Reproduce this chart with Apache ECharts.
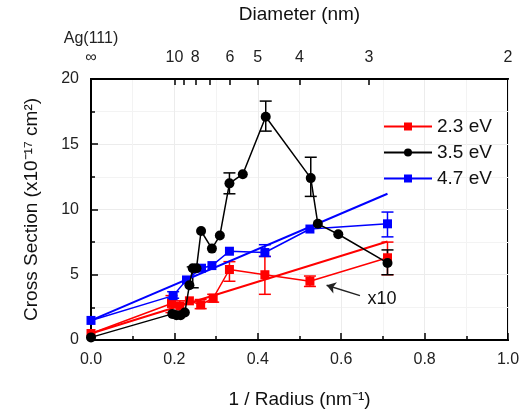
<!DOCTYPE html>
<html>
<head>
<meta charset="utf-8">
<script src="https://cdn.jsdelivr.net/npm/echarts@6/dist/echarts.min.js"></script>
<style>
  html, body { margin: 0; padding: 0; background: #fff; }
  #main { width: 527px; height: 414px; }
</style>
</head>
<body>
<div id="main"></div>
<script>
// 1/R (nm^-1) vs cross section (x10^-17 cm^2); 2.3 eV values are x10
var red23 = [[0, 0.5], [0.193, 2.8], [0.213, 2.6], [0.236, 3.0], [0.263, 2.7], [0.293, 3.2],
             [0.332, 5.4], [0.417, 5.0], [0.525, 4.5], [0.711, 6.3]];
var black35 = [[0, 0.2], [0.195, 2.0], [0.205, 1.9], [0.215, 1.9], [0.225, 2.1], [0.236, 4.2],
               [0.244, 5.5], [0.253, 5.5], [0.264, 8.35], [0.290, 7.0], [0.309, 8.0], [0.332, 12.0],
               [0.364, 12.7], [0.419, 17.1], [0.527, 12.4], [0.544, 8.9], [0.593, 8.1], [0.711, 5.9]];
var blue47 = [[0, 1.5], [0.197, 3.4], [0.229, 4.6], [0.265, 5.5], [0.290, 5.7], [0.332, 6.8],
              [0.417, 6.7], [0.525, 8.5], [0.711, 8.9]];

// linear fits
var redFit = [[0, 0.5], [0.711, 7.55]];
var blueFit = [[0, 1.5], [0.711, 11.2]];

// error bars [x, low, high]
var redErr = [[0.193, 2.1, 3.4], [0.213, 2.0, 3.0], [0.263, 2.4, 3.1], [0.293, 2.9, 3.5],
              [0.332, 4.5, 6.0], [0.417, 3.5, 6.4], [0.525, 4.1, 4.9], [0.711, 5.0, 7.5]];
var blackErr = [[0.244, 4.0, 5.6], [0.332, 11.2, 12.8], [0.419, 16.0, 18.3],
                [0.527, 11.0, 14.0], [0.711, 5.0, 6.9]];
var blueErr = [[0.197, 3.2, 3.7], [0.417, 6.4, 7.3], [0.711, 7.9, 9.8]];

// top axis: diameters (nm) -> 1/R = 2/D
var diamTicks = [10, 9, 8, 7, 6, 5, 4, 3];
var diamLabels = [10, 8, 6, 5, 4, 3, 2];

var chart = echarts.init(document.getElementById('main'));
var font = 'Arial, "Liberation Sans", sans-serif';

function errSeries(data, color) {
  return {
    type: 'custom',
    silent: true,
    data: data,
    encode: { x: 0, y: [1, 2] },
    z: 3,
    renderItem: function (params, api) {
      var lo = api.coord([api.value(0), api.value(1)]);
      var hi = api.coord([api.value(0), api.value(2)]);
      var w = 6;
      var st = { stroke: color, lineWidth: 1.5 };
      return {
        type: 'group',
        children: [
          { type: 'line', shape: { x1: lo[0], y1: lo[1], x2: hi[0], y2: hi[1] }, style: st },
          { type: 'line', shape: { x1: lo[0] - w, y1: lo[1], x2: lo[0] + w, y2: lo[1] }, style: st },
          { type: 'line', shape: { x1: hi[0] - w, y1: hi[1], x2: hi[0] + w, y2: hi[1] }, style: st }
        ]
      };
    }
  };
}

var option = {
  animation: false,
  textStyle: { fontFamily: font },
  grid: { left: 91, right: 19, top: 76, bottom: 72, show: true, borderColor: '#000', borderWidth: 2 },
  legend: {
    orient: 'vertical',
    left: 378,
    top: 112,
    itemWidth: 48,
    itemHeight: 10,
    itemGap: 7,
    textStyle: { fontSize: 19, color: '#111', fontFamily: font },
    data: ['2.3 eV', '3.5 eV', '4.7 eV']
  },
  xAxis: [{
    type: 'value',
    position: 'bottom',
    min: 0, max: 1, interval: 0.2,
    name: '1 / Radius (nm\u207B\u00B9)',
    nameLocation: 'middle',
    nameGap: 50,
    nameTextStyle: { fontSize: 19, color: '#111' },
    axisLine: { lineStyle: { color: '#000', width: 2 } },
    axisTick: { inside: true, length: 7, lineStyle: { color: '#000', width: 1.5 } },
    minorTick: { show: true, splitNumber: 2, length: 4, lineStyle: { color: '#000', width: 1.5 } },
    axisLabel: { fontSize: 16, color: '#222', margin: 12, formatter: function (v) { return v.toFixed(1); } },
    splitLine: { show: true, lineStyle: { color: '#ececec', width: 1 } },
    minorSplitLine: { show: true, lineStyle: { color: '#f3f3f3', width: 1 } }
  }, {
    type: 'value',
    position: 'top',
    min: 0, max: 1,
    name: 'Diameter (nm)',
    nameLocation: 'middle',
    nameGap: 46,
    nameTextStyle: { fontSize: 19, color: '#111' },
    axisLine: { lineStyle: { color: '#000', width: 2 } },
    axisTick: {
      inside: true, length: 6, lineStyle: { color: '#000', width: 1.5 },
      customValues: diamTicks.map(function (d) { return 2 / d; })
    },
    axisLabel: {
      fontSize: 16, color: '#222', margin: 12, lineHeight: 19,
      customValues: [0].concat(diamLabels.map(function (d) { return 2 / d; })),
      formatter: function (v) {
        if (v === 0) return 'Ag(111)\n\u221E';
        return String(Math.round(2 / v));
      }
    },
    splitLine: { show: false }
  }],
  yAxis: [{
    type: 'value',
    min: 0, max: 20, interval: 5,
    name: 'Cross Section (x10\u207B\u00B9\u2077 cm\u00B2)',
    nameLocation: 'middle',
    nameGap: 50,
    nameTextStyle: { fontSize: 19, color: '#111' },
    axisLine: { lineStyle: { color: '#000', width: 2 } },
    axisTick: { inside: true, length: 7, lineStyle: { color: '#000', width: 1.5 } },
    minorTick: { show: true, splitNumber: 2, length: 4, lineStyle: { color: '#000', width: 1.5 } },
    axisLabel: { fontSize: 16, color: '#222', margin: 12 },
    splitLine: { show: true, lineStyle: { color: '#ececec', width: 1 } },
    minorSplitLine: { show: true, lineStyle: { color: '#f3f3f3', width: 1 } }
  }],
  series: [{
    name: '2.3 eV', type: 'line', data: red23, color: '#ff0000',
    symbol: 'rect', symbolSize: 9, z: 4,
    lineStyle: { width: 1.5, color: '#ff0000' },
    itemStyle: { color: '#ff0000' },
    markPoint: {
      symbolSize: 0, silent: true,
      label: { show: true, formatter: 'x10', fontSize: 18, color: '#111', fontFamily: font },
      data: [{ coord: [0.698, 3.1] }]
    },
    markLine: {
      silent: true, symbol: ['none', 'arrow'], symbolSize: 9,
      lineStyle: { color: '#222', width: 1.5, type: 'solid' },
      label: { show: false },
      data: [[{ coord: [0.645, 3.4] }, { coord: [0.565, 4.2] }]]
    }
  }, {
    name: '3.5 eV', type: 'line', data: black35, color: '#000',
    symbol: 'circle', symbolSize: 10, z: 5,
    lineStyle: { width: 1.5, color: '#000' },
    itemStyle: { color: '#000' }
  }, {
    name: '4.7 eV', type: 'line', data: blue47, color: '#0000ff',
    symbol: 'rect', symbolSize: 9, z: 4,
    lineStyle: { width: 1.5, color: '#0000ff' },
    itemStyle: { color: '#0000ff' }
  }, {
    name: 'redFit', type: 'line', data: redFit, symbol: 'none',
    lineStyle: { width: 2, color: '#ff0000' }, z: 3
  }, {
    name: 'blueFit', type: 'line', data: blueFit, symbol: 'none',
    lineStyle: { width: 2, color: '#0000ff' }, z: 3
  },
  errSeries(redErr, '#ff0000'),
  errSeries(blackErr, '#000'),
  errSeries(blueErr, '#0000ff')
  ]
};

chart.setOption(option);
</script>
</body>
</html>
